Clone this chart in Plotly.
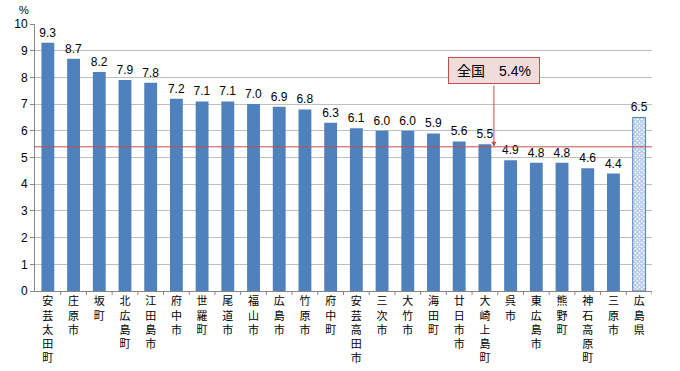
import plotly.graph_objects as go

categories = ["安芸太田町", "庄原市", "坂町", "北広島町", "江田島市", "府中市", "世羅町", "尾道市",
              "福山市", "広島市", "竹原市", "府中町", "安芸高田市", "三次市", "大竹市", "海田町",
              "廿日市市", "大崎上島町", "呉市", "東広島市", "熊野町", "神石高原町", "三原市", "広島県"]
values = [9.3, 8.7, 8.2, 7.9, 7.8, 7.2, 7.1, 7.1, 7.0, 6.9, 6.8, 6.3, 6.1, 6.0, 6.0, 5.9,
          5.6, 5.5, 4.9, 4.8, 4.8, 4.6, 4.4, 6.5]
national = 5.4
national_label = "全国　5.4%"

FONT = "Liberation Sans, Noto Sans CJK JP"
BLUE = "#4F81BD"

n = len(categories)
xs = list(range(n))
vlabels = ["<br>".join(list(c)) for c in categories]

fig = go.Figure()
fig.add_trace(go.Bar(
    x=xs[:-1], y=values[:-1], marker=dict(color=BLUE, line=dict(width=0)),
    text=[f"{v:.1f}" for v in values[:-1]], textposition="outside", constraintext="none",
    textfont=dict(size=12, color="#000000", family=FONT), cliponaxis=False,
    width=0.5,
))
fig.add_trace(go.Bar(
    x=xs[-1:], y=values[-1:],
    marker=dict(color="#FFFFFF", line=dict(width=1, color=BLUE),
                pattern=dict(shape="x", fgcolor=BLUE, bgcolor="#FFFFFF", size=3, solidity=0.6)),
    text=[f"{v:.1f}" for v in values[-1:]], textposition="outside", constraintext="none",
    textfont=dict(size=12, color="#000000", family=FONT), cliponaxis=False,
    width=0.5,
))

fig.add_shape(type="line", xref="paper", x0=0, x1=1, yref="y", y0=national, y1=national,
              line=dict(color="#C0504D", width=1))

fig.add_annotation(x=17.35, y=national, xref="x", yref="y", ax=17.35, ay=7.75, axref="x", ayref="y",
                   showarrow=True, arrowhead=2, arrowsize=1, arrowwidth=1, arrowcolor="#C0504D",
                   text="")
fig.add_annotation(x=17.35, y=8.26, xref="x", yref="y", text=national_label, showarrow=False,
                   font=dict(size=14, family=FONT, color="#000000"),
                   bgcolor="#F2DCDB", bordercolor="#C0504D", borderwidth=1, borderpad=0,
                   width=90, height=25)

fig.add_annotation(x=0, y=1, xref="paper", yref="paper", xanchor="right", yanchor="middle",
                   xshift=-4, yshift=14, text="%", showarrow=False,
                   font=dict(size=11, family=FONT, color="#000"))

fig.update_layout(
    width=680, height=371, margin=dict(l=35, r=28, t=24, b=80, autoexpand=False),
    paper_bgcolor="white", plot_bgcolor="white", showlegend=False,
    bargap=0.5, font=dict(family=FONT),
)
fig.update_xaxes(
    tickmode="array", tickvals=xs, ticktext=vlabels, range=[-0.5, n - 0.5],
    tickangle=0, tickfont=dict(size=11, family=FONT, color="#000"),
    showline=True, linecolor="#868686", linewidth=1, showgrid=False,
    ticks="", ticklen=0, automargin=False,
)
fig.update_yaxes(
    range=[0, 10], dtick=1, tickfont=dict(size=12, family=FONT, color="#000"),
    showline=True, linecolor="#868686", linewidth=1,
    showgrid=True, gridcolor="#BFBFBF", gridwidth=1, ticks="outside", ticklen=4, tickcolor="#868686",
    zeroline=False, automargin=False,
)
for i in range(n):
    fig.add_shape(type="line", xref="x", yref="paper", x0=i + 0.5, x1=i + 0.5, y0=0, y1=-0.015,
                  line=dict(color="#868686", width=1))

fig.write_html("out.html", config={"displayModeBar": False},
               post_script="document.body.style.margin='0px';")
